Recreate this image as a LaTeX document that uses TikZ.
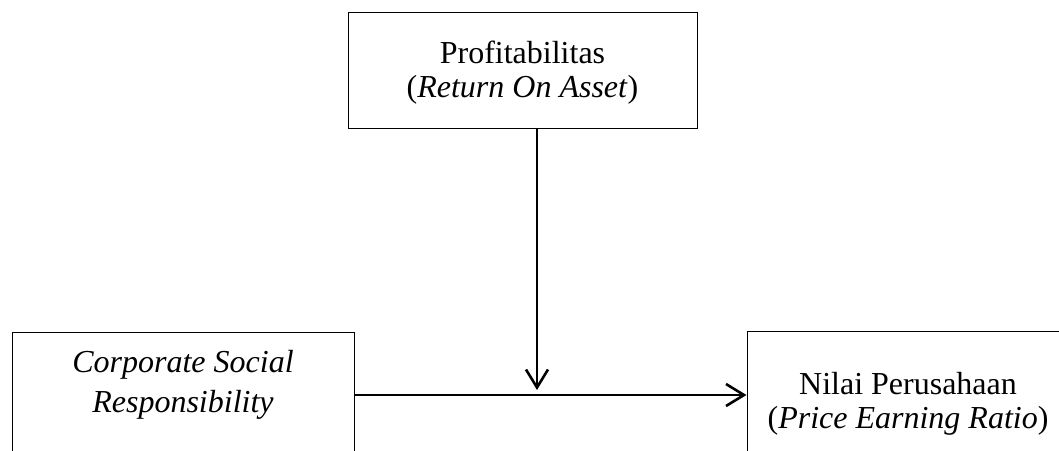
\documentclass[tikz,border=0pt]{standalone}
\usepackage{fontspec}
\setmainfont{Liberation Serif}
\usetikzlibrary{arrows.meta}
\begin{document}
\begin{tikzpicture}[x=0.5pt,y=-0.5pt]
      \useasboundingbox (0,0) rectangle (1059,450);
      \clip (0,0) rectangle (1059,450);
      \begin{scope}[every node/.style={draw=black,rectangle,line width=0.5pt,align=center,inner ysep=0pt,anchor=north,font=\fontsize{16}{17}\selectfont}]
        \node[minimum width=174.5pt,text height=42.5pt,text depth=15.5pt] (roa) at (522.5,12) {Profitabilitas\\(\textit{Return On Asset})};
        \node[minimum width=171pt,text height=40pt,text depth=60pt] (csr) at (183,332) {\textit{Corporate Social}\\[3pt]\textit{Responsibility}};
        \node[minimum width=161pt,text height=48.5pt,text depth=60pt] (per) at (908,331) {Nilai Perusahaan\\(\textit{Price Earning Ratio})};
      \end{scope}
      \coordinate (tip) at (537,390);
      \coordinate (join) at (537,395);
      \begin{scope}[every edge/.style={draw=black,line width=1.3pt,-{Straight Barb[length=9pt,width=11pt]}}]
        \path (roa.south -| tip) edge (tip);
        \path (csr.east |- join) edge (per.west |- join);
      \end{scope}
    \end{tikzpicture}
\end{document}
